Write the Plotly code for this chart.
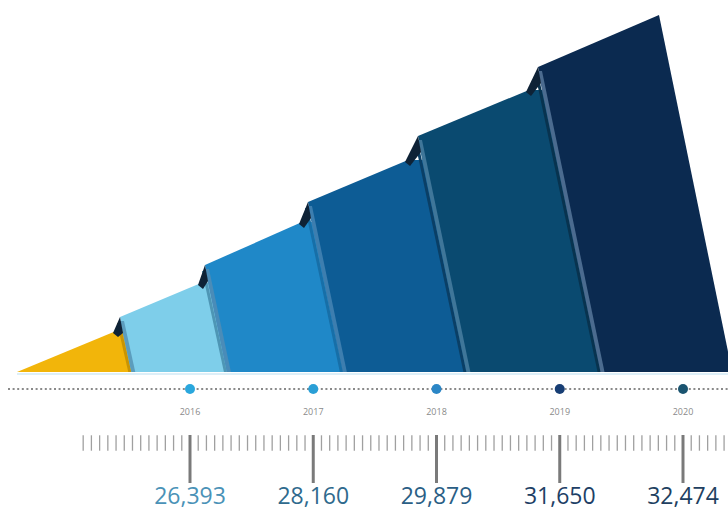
import plotly.graph_objects as go

# ---------------- data ----------------
years = [2016, 2017, 2018, 2019, 2020]
values = [26393, 28160, 29879, 31650, 32474]
dot_colors = ["#2AA7DD", "#2A9FD6", "#2B86C6", "#173E74", "#1A5470"]
value_colors = ["#4A92B7", "#2F6A8D", "#2A5E85", "#1E3F66", "#213F60"]

# ---------------- decorative staircase (style / geometry) ----------------
col_colors = ["#F2B50A", "#7ECEEA", "#1F88C8", "#0D5C95", "#0A4A70", "#0B2A50"]
stripe_colors = [None, "#5C9DBD", "#4A8CB8", "#3D7EAF", "#3F7699", "#4B6B8F"]
shade_colors = [None, "#C89404", "#4E96B5", "#176FA8", "#0A3F66", "#08334F"]
col_tops = [((17, 372), (116, 331)), ((120, 317), (201, 283)),
            ((205, 265), (302, 222)), ((308, 202), (408, 160)),
            ((418, 136), (529, 90)), ((538, 67), (659, 15))]
BASE = 372
LEAN = 0.205
MINOR_PER_YEAR = 15

W, H = 728, 510
X0_PX, YEAR_PX = 190.0, 123.25   # position of first year and pixel step per year


def px2x(p):
    return years[0] + (p - X0_PX) / YEAR_PX


def poly(points, color):
    xs = [px2x(p[0]) for p in points] + [px2x(points[0][0])]
    ys = [p[1] for p in points] + [points[0][1]]
    return go.Scatter(x=xs, y=ys, mode="lines", fill="toself", fillcolor=color,
                      line=dict(width=0, color=color), hoverinfo="skip", showlegend=False)


fig = go.Figure()

n = len(col_tops)
for i, ((xl, yl), (xr, yr)) in enumerate(col_tops):
    if i == n - 1:
        right = [(xr + LEAN * (BASE - yr), BASE)]
    else:
        (nxl, nyl) = col_tops[i + 1][0]
        right = [(nxl + 2 + LEAN * (yr - nyl), yr), (nxl + 2 + LEAN * (BASE - nyl), BASE)]
    if i == 0:
        pts = [(xl, yl), (xr, yr)] + right
    else:
        pts = [(xl, yl), (xr, yr)] + right + [(xl + LEAN * (BASE - yl), BASE)]
    fig.add_trace(poly(pts, col_colors[i]))

for i in range(1, n):
    (xl, yl) = col_tops[i][0]
    b = LEAN * (BASE - yl)
    fig.add_trace(poly([(xl - 3, yl + 6), (xl, yl + 6), (xl + b, BASE), (xl - 3 + b, BASE)],
                       shade_colors[i]))
    fig.add_trace(poly([(xl, yl + 4), (xl + 4, yl + 4), (xl + 4 + b, BASE), (xl + b, BASE)],
                       stripe_colors[i]))
    pxr, pyr = col_tops[i - 1][1]
    fig.add_trace(poly([(pxr - 3, pyr + 2), (xl, yl), (xl + 3, yl + 16), (pxr + 2, pyr + 6)],
                       "#0E2236"))

# pale base line under columns
fig.add_trace(go.Scatter(x=[px2x(17), px2x(W)], y=[BASE + 2, BASE + 2], mode="lines",
                         line=dict(color="#DDEFF8", width=2), hoverinfo="skip", showlegend=False))

# dotted timeline
fig.add_trace(go.Scatter(x=[px2x(8), px2x(W)], y=[389, 389], mode="lines",
                         line=dict(color="#8A8A8A", width=2.2, dash="2px,2.6px"),
                         hoverinfo="skip", showlegend=False))
fig.add_trace(go.Scatter(x=years, y=[389] * len(years), mode="markers",
                         marker=dict(size=10, color=dot_colors, line=dict(width=0)),
                         hoverinfo="skip", showlegend=False))

# year labels
fig.add_trace(go.Scatter(x=years, y=[413] * len(years), mode="text",
                         text=[str(y) for y in years],
                         textfont=dict(family="Open Sans", size=9, color="#8A8A8A"),
                         hoverinfo="skip", showlegend=False))

# ruler minor ticks
start = years[0] - 13 / MINOR_PER_YEAR
minor = [start + k / MINOR_PER_YEAR
         for k in range(int((px2x(W) - start) * MINOR_PER_YEAR) + 1)]
minor = [m for m in minor if abs(m - round(m)) > 0.02]
fig.add_trace(go.Scatter(x=minor, y=[443] * len(minor), mode="markers",
                         marker=dict(symbol="line-ns", size=11,
                                     line=dict(color="#A0A0A0", width=1.3)),
                         hoverinfo="skip", showlegend=False))

# ruler major ticks at each year
mx, my = [], []
for y in years:
    mx += [y, y, None]
    my += [435, 483, None]
fig.add_trace(go.Scatter(x=mx, y=my, mode="lines", line=dict(color="#7A7A7A", width=3),
                         hoverinfo="skip", showlegend=False))

# values
fig.add_trace(go.Scatter(x=years, y=[498] * len(years), mode="text",
                         text=[f"{v:,}" for v in values],
                         textfont=dict(family="Open Sans", size=23, color=value_colors),
                         hoverinfo="skip", showlegend=False))

fig.update_layout(
    width=W, height=H,
    margin=dict(l=0, r=0, t=0, b=0),
    paper_bgcolor="white", plot_bgcolor="white",
    xaxis=dict(range=[px2x(0), px2x(W)], visible=False, fixedrange=True),
    yaxis=dict(range=[H, 0], visible=False, fixedrange=True),
    showlegend=False,
)

fig.write_html("out.html", config={"displayModeBar": False},
               post_script="document.body.style.margin='0px';document.body.style.overflow='hidden';")
